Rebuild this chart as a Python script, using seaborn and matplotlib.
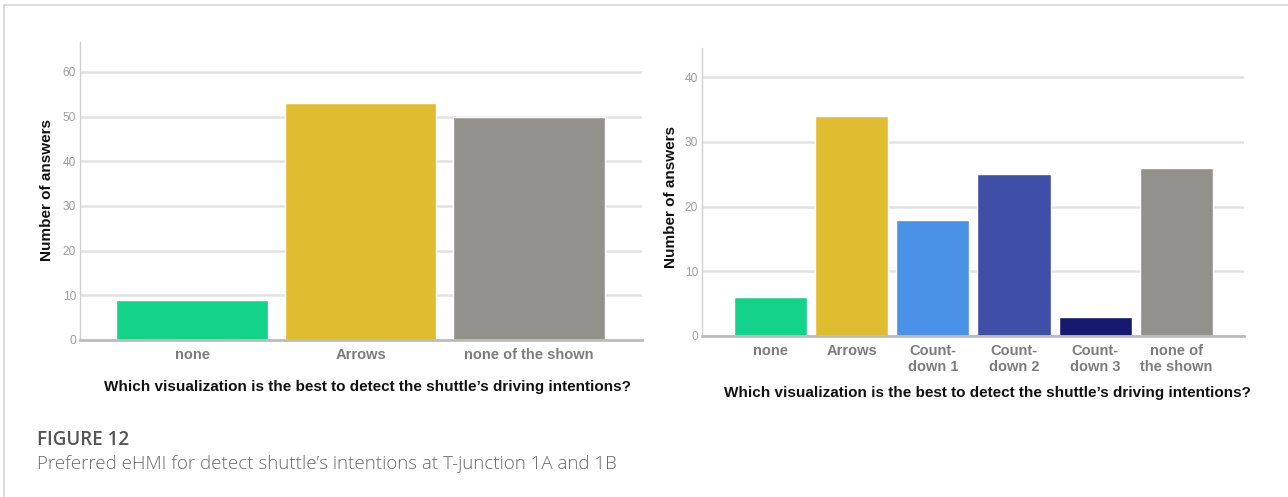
import matplotlib
matplotlib.use("Agg")
import matplotlib.pyplot as plt
import seaborn as sns
import pandas as pd
from matplotlib.lines import Line2D

# chart 1A
cats_a = ["none", "Arrows", "none of the shown"]
vals_a = [9, 53, 50]
colors_a = ["#13D38A", "#E0BD30", "#92918C"]

# chart 1B
cats_b = ["none", "Arrows", "Count-\ndown 1", "Count-\ndown 2", "Count-\ndown 3", "none of\nthe shown"]
vals_b = [6, 34, 18, 25, 3, 26]
colors_b = ["#13D38A", "#E0BD30", "#4A91E8", "#3F4FA8", "#151A6E", "#92918C"]

xlabel_text = "Which visualization is the best to detect the shuttle\u2019s driving intentions?"

sns.set_style("white")
plt.rcParams['font.family'] = ['Liberation Sans', 'DejaVu Sans']

W, H = 1288, 497
fig = plt.figure(figsize=(W / 100, H / 100), dpi=100)
ax1 = fig.add_axes([80 / W, 1 - 340 / H, 562 / W, 298 / H])
ax2 = fig.add_axes([702 / W, 1 - 336 / H, 542 / W, 288 / H])


def draw(ax, cats, vals, colors, ymax, xlim, yticks, xlab_pos, ylab_pos):
    df = pd.DataFrame({"cat": cats, "val": vals})
    sns.barplot(data=df, x="cat", y="val", hue="cat", palette=colors,
                width=0.9, legend=False, ax=ax, saturation=1)
    ax.set_ylim(0, ymax)
    ax.set_xlim(*xlim)
    ax.set_yticks(yticks)
    ax.set_axisbelow(True)
    ax.yaxis.grid(True, color="#e2e2e2", linewidth=1.8)
    for s in ["top", "right"]:
        ax.spines[s].set_visible(False)
    ax.spines["left"].set_color("#d0d0d0")
    ax.spines["left"].set_linewidth(1.0)
    ax.spines["bottom"].set_color("#bcbcbc")
    ax.spines["bottom"].set_linewidth(2)
    ax.tick_params(axis="both", length=0)
    ax.tick_params(axis="y", labelsize=8.6, labelcolor="#a0a0a0", pad=3)
    ax.tick_params(axis="x", labelsize=10.5, labelcolor="#7c7c7c", pad=6)
    for t in ax.get_xticklabels():
        t.set_fontweight("bold")
        t.set_linespacing(1.15)
    ax.set_ylabel("Number of answers", fontsize=11, fontweight="bold", color="#111111")
    ax.set_xlabel(xlabel_text, fontsize=11, fontweight="bold", color="#111111")
    ax.xaxis.set_label_coords(*xlab_pos)
    ax.xaxis.label.set_va("center")
    ax.yaxis.set_label_coords(*ylab_pos)
    ax.yaxis.label.set_va("center")


draw(ax1, cats_a, vals_a, colors_a, 66.7, (-0.665, 2.67), [0, 10, 20, 30, 40, 50, 60],
     (0.511, -0.158), (-0.0587, 0.503))
draw(ax2, cats_b, vals_b, colors_b, 44.5, (-0.84, 5.83), [0, 10, 20, 30, 40],
     (0.526, -0.198), (-0.057, 0.483))

# page frame lines
fig.add_artist(Line2D([3.5 / W, 1], [1 - 5 / H, 1 - 5 / H], color="#d5d5d5", linewidth=1.2))
fig.add_artist(Line2D([3.5 / W, 3.5 / W], [0, 1 - 5 / H], color="#d5d5d5", linewidth=1.2))

fig.text(37 / W, 1 - 440 / H, "FIGURE 12", fontsize=13.5, color="#555555",
         family=["Open Sans", "DejaVu Sans"], fontweight="semibold", va="center")
fig.text(37 / W, 1 - 464 / H, "Preferred eHMI for detect shuttle\u2019s intentions at T-junction 1A and 1B",
         fontsize=13.5, color="#6a6a6a", family=["Open Sans", "DejaVu Sans"], fontweight="light", va="center")

fig.savefig("out.png", dpi=100)
